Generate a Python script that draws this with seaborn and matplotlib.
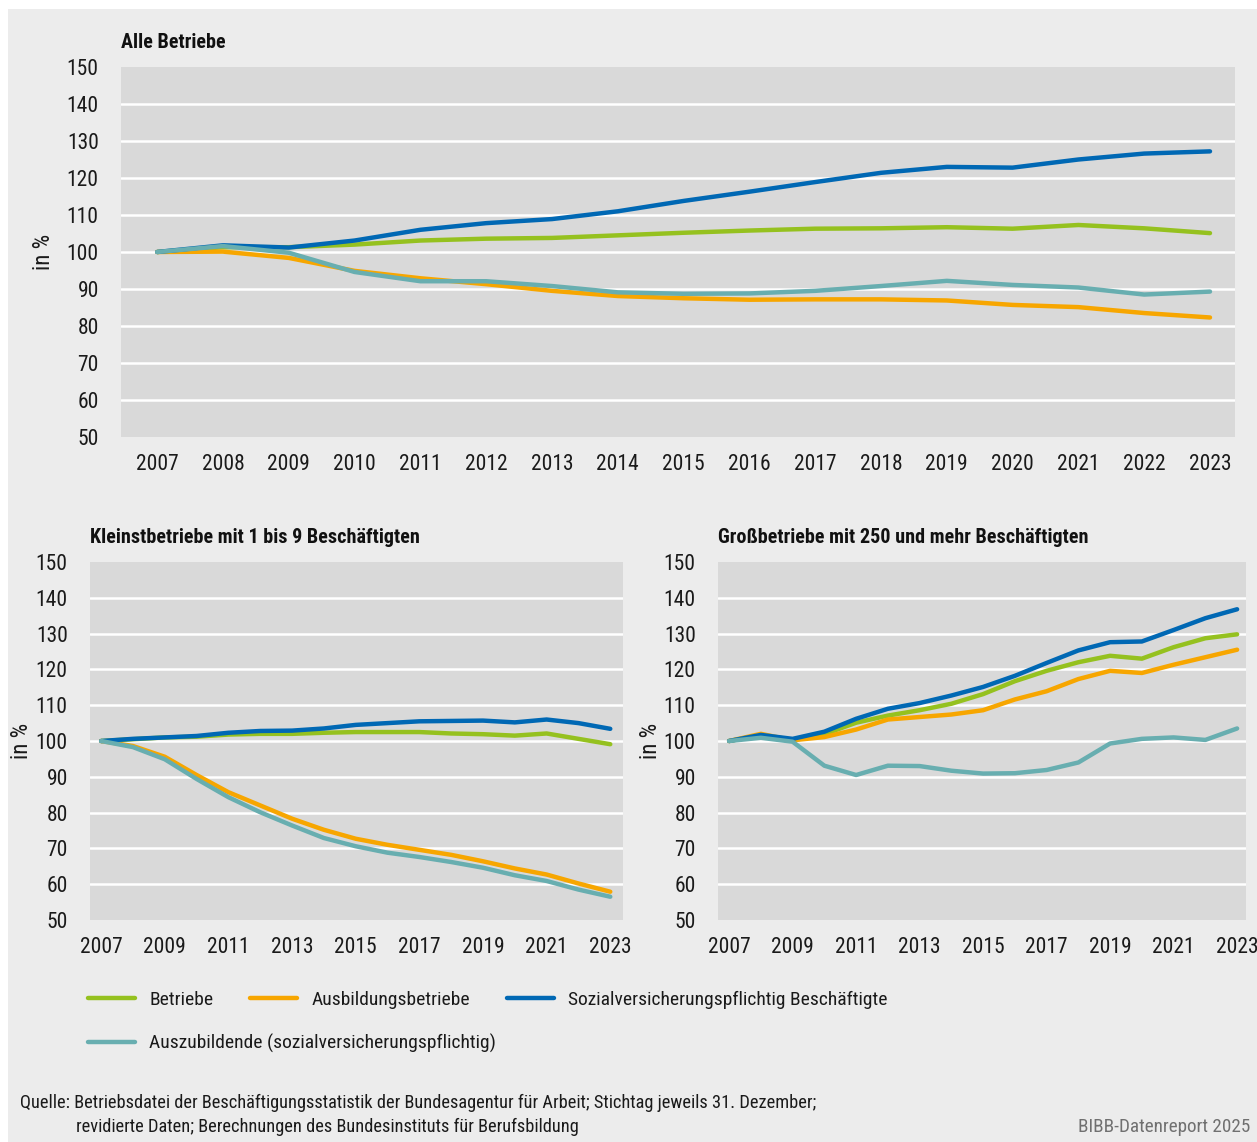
import pandas as pd
import matplotlib
matplotlib.use("Agg")
import matplotlib.pyplot as plt
from matplotlib.patches import Rectangle
import seaborn as sns

# Jahre (Stichtag 31.12.), Index 2007 = 100
jahre = list(range(2007, 2024))

reihen = ["Betriebe", "Ausbildungsbetriebe", "Sozialversicherungspflichtig Beschäftigte",
          "Auszubildende (sozialversicherungspflichtig)"]
farben = ["#95c11f", "#f7a600", "#0068b4", "#68aeb0"]

# Alle Betriebe
alle_betriebe = [100, 101.3, 101.3, 102.0, 103.1, 103.6, 103.8, 104.5, 105.2, 105.8, 106.3, 106.4, 106.7, 106.3, 107.3, 106.4, 105.1]
alle_ausbildungsbetriebe = [100, 100.1, 98.4, 94.9, 92.9, 91.3, 89.5, 88.1, 87.5, 87.1, 87.2, 87.2, 86.9, 85.7, 85.1, 83.5, 82.3]
alle_beschaeftigte = [100, 101.8, 101.2, 103.1, 106.0, 107.8, 108.9, 111.0, 113.8, 116.3, 118.9, 121.4, 123.0, 122.8, 125.0, 126.6, 127.2]
alle_azubis = [100, 101.6, 99.8, 94.6, 92.1, 92.1, 90.8, 89.1, 88.7, 88.8, 89.5, 90.8, 92.2, 91.1, 90.4, 88.5, 89.3]

# Kleinstbetriebe mit 1 bis 9 Beschäftigten
klein_betriebe = [100, 100.5, 101.0, 101.2, 101.8, 102.0, 102.0, 102.3, 102.5, 102.5, 102.5, 102.1, 101.9, 101.5, 102.1, 100.6, 99.1]
klein_ausbildungsbetriebe = [100, 98.6, 95.6, 90.5, 85.7, 82.0, 78.3, 75.2, 72.7, 71.0, 69.6, 68.2, 66.4, 64.4, 62.7, 60.2, 57.9]
klein_beschaeftigte = [100, 100.6, 101.0, 101.4, 102.3, 102.8, 102.9, 103.5, 104.5, 105.0, 105.5, 105.6, 105.7, 105.2, 106.0, 105.0, 103.4]
klein_azubis = [100, 98.3, 94.9, 89.4, 84.3, 80.1, 76.4, 72.9, 70.6, 68.8, 67.6, 66.2, 64.6, 62.5, 60.9, 58.5, 56.5]

# Großbetriebe mit 250 und mehr Beschäftigten
gross_betriebe = [100, 101.6, 100.2, 101.9, 105.1, 107.1, 108.6, 110.4, 113.1, 116.7, 119.6, 122.0, 123.8, 123.0, 126.2, 128.7, 129.8]
gross_ausbildungsbetriebe = [100, 102.0, 100.2, 101.1, 103.2, 106.0, 106.7, 107.4, 108.6, 111.6, 113.9, 117.3, 119.6, 119.0, 121.3, 123.4, 125.5]
gross_beschaeftigte = [100, 101.7, 100.6, 102.6, 106.2, 109.0, 110.6, 112.7, 115.1, 118.2, 121.8, 125.3, 127.6, 127.8, 131.0, 134.3, 136.8]
gross_azubis = [100, 100.9, 99.8, 93.1, 90.5, 93.1, 93.0, 91.7, 90.9, 91.0, 91.9, 94.0, 99.3, 100.6, 101.0, 100.3, 103.5]


def to_long(werte):
    frames = []
    for name, w in zip(reihen, werte):
        frames.append(pd.DataFrame({"Jahr": jahre, "Wert": w, "Reihe": name}))
    return pd.concat(frames, ignore_index=True)


df_alle = to_long([alle_betriebe, alle_ausbildungsbetriebe, alle_beschaeftigte, alle_azubis])
df_klein = to_long([klein_betriebe, klein_ausbildungsbetriebe, klein_beschaeftigte, klein_azubis])
df_gross = to_long([gross_betriebe, gross_ausbildungsbetriebe, gross_beschaeftigte, gross_azubis])

sns.set_style("white")
plt.rcParams["font.family"] = ["Roboto Condensed", "Open Sans Condensed", "DejaVu Sans"]
plt.rcParams["font.stretch"] = "condensed"

W, H = 1257, 1142
fig = plt.figure(figsize=(W / 100, H / 100), dpi=100)
fig.patch.set_facecolor("white")
fig.patches.append(Rectangle((8 / W, 0), 1 - 8 / W, 1 - 9 / H, transform=fig.transFigure,
                             facecolor="#ececec", edgecolor="none", zorder=-10))


def px_axes(x0, y0, x1, y1):
    return fig.add_axes([x0 / W, 1 - y1 / H, (x1 - x0) / W, (y1 - y0) / H])


ax_top = px_axes(121, 67, 1235, 437)
ax_kl = px_axes(90, 562, 623, 920)
ax_gr = px_axes(718, 562, 1246, 920)

panels = [
    (ax_top, df_alle, "Alle Betriebe", jahre, (2006.45, 2023.38), 55),
    (ax_kl, df_klein, "Kleinstbetriebe mit 1 bis 9 Beschäftigten", jahre[::2], (2006.65, 2023.4), 33),
    (ax_gr, df_gross, "Großbetriebe mit 250 und mehr Beschäftigten", jahre[::2], (2006.65, 2023.28), 662),
]

for ax, df, titel, xt, xlim, ylab_x in panels:
    ax.set_facecolor("#d9d9d9")
    sns.lineplot(data=df, x="Jahr", y="Wert", hue="Reihe", hue_order=reihen,
                 palette=farben, linewidth=3.2, ax=ax, legend=True)
    ax.set_ylim(50, 150)
    ax.set_xlim(*xlim)
    ax.set_yticks(range(50, 151, 10))
    ax.set_xticks(xt)
    ax.set_xticklabels([str(j) for j in xt])
    ax.yaxis.grid(True, color="white", linewidth=1.8)
    ax.xaxis.grid(False)
    gl = ax.get_ygridlines()
    gl[0].set_visible(False)
    gl[-1].set_visible(False)
    ax.set_axisbelow(True)
    for s in ax.spines.values():
        s.set_visible(False)
    ax.tick_params(axis="both", length=0, labelsize=15.5, colors="#1a1a1a")
    ax.tick_params(axis="y", pad=16)
    ax.tick_params(axis="x", pad=12)
    ax.set_xlabel("")
    ax.set_ylabel("in %", fontsize=16.5, color="#1a1a1a")
    # position in pixels relative to axes left edge
    x0 = ax.get_position().x0 * W
    ax.yaxis.set_label_coords((ylab_x - x0) / (ax.get_position().width * W), 0.5)
    ax.set_title(titel, loc="left", fontsize=14.5, fontweight="bold", pad=14, color="#111111")
    handles, labels = ax.get_legend_handles_labels()
    ax.get_legend().remove()

# Legende
leg_kw = dict(frameon=False, fontsize=14, handlelength=2.4, handletextpad=0.75,
              borderaxespad=0, borderpad=0, labelcolor="#1a1a1a")
fig.legend(handles[:3], labels[:3], loc="center left", bbox_to_anchor=(88 / W, 1 - 1000 / H),
           ncol=3, columnspacing=1.9, **leg_kw)
fig.legend(handles[3:], labels[3:], loc="center left", bbox_to_anchor=(88 / W, 1 - 1043 / H),
           ncol=1, **leg_kw)

# Quelle
fig.text(20 / W, 1 - 1103 / H,
         "Quelle: Betriebsdatei der Beschäftigungsstatistik der Bundesagentur für Arbeit; Stichtag jeweils 31. Dezember;",
         fontsize=13.2, va="center", ha="left", color="#1a1a1a")
fig.text(76 / W, 1 - 1127 / H,
         "revidierte Daten; Berechnungen des Bundesinstituts für Berufsbildung",
         fontsize=13.2, va="center", ha="left", color="#1a1a1a")
fig.text(1250 / W, 1 - 1127 / H, "BIBB-Datenreport 2025", fontsize=13.8, va="center", ha="right",
         color="#707070")

fig.savefig("out.png", dpi=100, facecolor=fig.get_facecolor())
